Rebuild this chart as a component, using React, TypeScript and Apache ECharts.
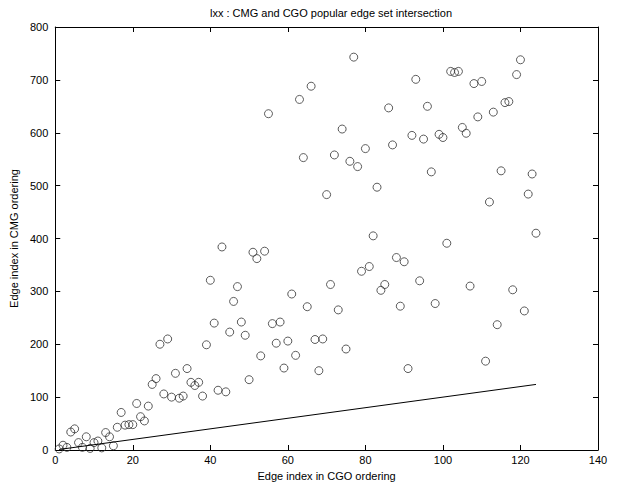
import React, { useEffect, useRef } from "react";
import * as echarts from "echarts";

const titleText = "lxx : CMG and CGO popular edge set intersection";
const xAxisName = "Edge index in CGO ordering";
const yAxisName = "Edge index in CMG ordering";

// CMG index for each CGO index 1..124
const cmgIndex = [
  2, 9, 5, 34, 40, 14, 5, 25, 3, 14,
  17, 4, 33, 25, 8, 43, 71, 47, 48, 48,
  88, 63, 55, 83, 124, 135, 200, 106, 210, 100,
  145, 98, 102, 154, 128, 122, 128, 102, 199, 321,
  240, 113, 384, 110, 223, 281, 309, 242, 217, 133,
  374, 362, 178, 376, 636, 239, 202, 242, 155, 206,
  295, 179, 663, 553, 271, 688, 209, 150, 210, 483,
  313, 558, 265, 607, 191, 546, 743, 536, 338, 570,
  347, 405, 497, 302, 313, 647, 577, 364, 272, 356,
  154, 595, 701, 320, 588, 650, 526, 277, 597, 591,
  391, 716, 714, 716, 610, 599, 310, 693, 630, 697,
  168, 469, 639, 237, 528, 657, 659, 303, 710, 738,
  263, 484, 522, 410,
];
const cgoIndex = cmgIndex.map((_, i) => i + 1);

const refLine = [
  [1, 1],
  [124, 124],
];

const xMin = 0, xMax = 140, xStep = 20;
const yMin = 0, yMax = 800, yStep = 100;

const FONT = "Liberation Sans, Arial, Helvetica, sans-serif";

export default function App() {
  const ref = useRef<HTMLDivElement>(null);
  useEffect(() => {
    document.body.style.margin = "0";
    if (!ref.current) return;
    const chart = echarts.init(ref.current, null, { renderer: "svg" });
    const axisLine = { show: true, onZero: false, lineStyle: { color: "#000", width: 1 } };
    const tick = { show: true, inside: true, length: 5, lineStyle: { color: "#000" } };
    const label = { color: "#000", fontSize: 11, fontFamily: FONT };
    chart.setOption({
      animation: false,
      backgroundColor: "#fff",
      title: {
        text: titleText,
        left: 326,
        top: 2,
        textAlign: "center",
        textStyle: { fontSize: 11, fontWeight: "normal", color: "#000", fontFamily: FONT },
      },
      grid: { left: 54, right: 22, top: 27, bottom: 31, containLabel: false },
      xAxis: [
        {
          type: "value",
          min: xMin,
          max: xMax,
          interval: xStep,
          position: "bottom",
          name: xAxisName,
          nameLocation: "middle",
          nameGap: 20,
          nameTextStyle: { color: "#000", fontSize: 11, fontFamily: FONT },
          axisLine,
          axisTick: tick,
          axisLabel: { ...label, margin: 4 },
          splitLine: { show: false },
        },
        {
          type: "value",
          min: xMin,
          max: xMax,
          interval: xStep,
          position: "top",
          axisLine,
          axisTick: tick,
          axisLabel: { show: false },
          splitLine: { show: false },
        },
      ],
      yAxis: [
        {
          type: "value",
          min: yMin,
          max: yMax,
          interval: yStep,
          position: "left",
          name: yAxisName,
          nameLocation: "middle",
          nameGap: 27,
          nameRotate: 90,
          nameTextStyle: { color: "#000", fontSize: 11, fontFamily: FONT },
          axisLine,
          axisTick: tick,
          axisLabel: { ...label, margin: 7 },
          splitLine: { show: false },
        },
        {
          type: "value",
          min: yMin,
          max: yMax,
          interval: yStep,
          position: "right",
          axisLine,
          axisTick: tick,
          axisLabel: { show: false },
          splitLine: { show: false },
        },
      ],
      series: [
        {
          type: "scatter",
          data: cgoIndex.map((x, i) => [x, cmgIndex[i]]),
          symbol: "circle",
          symbolSize: 8,
          itemStyle: { color: "rgba(0,0,0,0)", borderColor: "#333", borderWidth: 1 },
        },
        {
          type: "line",
          data: refLine,
          symbol: "none",
          lineStyle: { color: "#000", width: 1 },
        },
      ],
    });
    return () => chart.dispose();
  }, []);
  return <div ref={ref} style={{ width: 620, height: 486 }} />;
}
